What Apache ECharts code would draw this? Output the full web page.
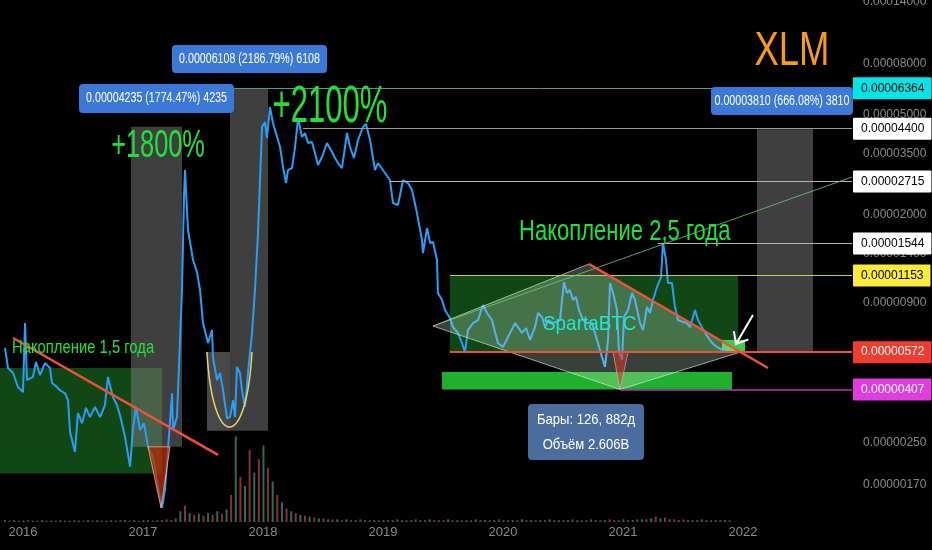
<!DOCTYPE html>
<html><head><meta charset="utf-8">
<script src="https://cdn.jsdelivr.net/npm/echarts@6.0.0/dist/echarts.min.js"></script>
<style>html,body{margin:0;padding:0;background:#000;}#c{width:932px;height:550px;}</style>
</head><body><div id="c"></div>
<script>
// ---------- DATA ----------
const times = [2015.85,2015.875,2015.917,2015.958,2016.0,2016.017,2016.033,2016.083,2016.108,2016.142,2016.183,2016.225,2016.242,2016.267,2016.308,2016.35,2016.375,2016.392,2016.433,2016.458,2016.492,2016.525,2016.558,2016.6,2016.642,2016.683,2016.708,2016.75,2016.783,2016.808,2016.85,2016.892,2016.917,2016.942,2016.975,2017.008,2017.042,2017.083,2017.125,2017.158,2017.183,2017.208,2017.242,2017.25,2017.283,2017.292,2017.325,2017.342,2017.35,2017.375,2017.417,2017.45,2017.475,2017.5,2017.542,2017.575,2017.583,2017.617,2017.642,2017.667,2017.7,2017.725,2017.75,2017.767,2017.783,2017.808,2017.825,2017.85,2017.875,2017.908,2017.933,2017.958,2017.992,2018.017,2018.033,2018.058,2018.083,2018.142,2018.167,2018.192,2018.208,2018.242,2018.267,2018.292,2018.325,2018.35,2018.375,2018.408,2018.433,2018.458,2018.492,2018.533,2018.575,2018.6,2018.625,2018.658,2018.7,2018.725,2018.758,2018.792,2018.833,2018.858,2018.892,2018.933,2018.958,2019.017,2019.058,2019.083,2019.125,2019.167,2019.208,2019.242,2019.283,2019.325,2019.333,2019.367,2019.392,2019.417,2019.45,2019.458,2019.492,2019.517,2019.558,2019.583,2019.625,2019.658,2019.683,2019.708,2019.75,2019.792,2019.833,2019.867,2019.908,2019.933,2019.958,2020.0,2020.042,2020.1,2020.125,2020.158,2020.192,2020.225,2020.267,2020.292,2020.325,2020.35,2020.375,2020.417,2020.475,2020.508,2020.533,2020.558,2020.583,2020.608,2020.633,2020.667,2020.7,2020.742,2020.783,2020.825,2020.85,2020.875,2020.892,2020.917,2020.95,2020.967,2020.992,2021.008,2021.042,2021.075,2021.1,2021.142,2021.167,2021.2,2021.225,2021.25,2021.283,2021.317,2021.333,2021.358,2021.375,2021.408,2021.433,2021.458,2021.5,2021.533,2021.558,2021.6,2021.625,2021.658,2021.7,2021.742,2021.783,2021.825,2021.867];
// prices in satoshi (x 1e-8 BTC)
const prices = [595,495,473,416,397,746,443,456,523,464,518,495,431,423,404,393,369,276,230,328,299,344,316,347,316,353,456,379,353,322,264,201,286,347,281,299,241,220,167,138,163,234,393,281,316,404,1009,2402,3018,1745,1327,1190,1009,746,622,700,547,443,473,404,313,316,369,316,500,473,404,347,473,676,1009,1682,4470,4679,4043,5366,4636,3724,3102,2680,3018,3074,3724,4854,4081,4232,3863,3898,3526,3159,3399,3863,3558,3368,3217,3074,4232,3724,3368,3970,4470,4594,3970,3018,3217,2937,2755,2234,2193,2755,2680,2515,2038,1592,1415,1777,1550,1564,1327,982,921,840,781,719,682,622,573,700,746,767,880,818,767,688,622,600,657,746,719,682,713,640,719,818,788,719,767,746,767,1085,982,1009,921,947,840,767,746,746,640,547,500,640,1075,982,840,568,533,788,840,982,921,746,700,864,818,921,1037,1136,1550,1327,1075,1075,864,767,753,746,719,840,767,719,663,622,600,584,573];

const volStart = 2015.85, volStep = 0.03846;
const volumes = [2,1.5,2,1.5,1.5,2,1.5,1.5,2,1.5,1.5,1.5,2,1.5,1.5,2,1.5,1.5,2,1.5,2,1.5,1.5,2,1.5,2,2,1.5,2,1.5,2,2,1.5,2,2,3,2,
 4,12,18,10,8,9,7,10,8,12,9,14,30,95,50,40,80,55,70,85,60,45,30,22,15,12,10,8,7,6,5,4,
 4,3,3,3,2,3,2,2,3,2,2,2,
 2,2,2,2,3,2,2,2,3,2,2,3,2,2,2,3,2,2,2,2,
 2,3,2,2,2,2,3,2,2,2,2,3,2,2,2,2,2,3,2,2,
 2,2,3,2,2,2,3,2,2,2,3,2,2,3,2,2,3,3,3,4,
 6,4,5,3,3,2,3,2,2,2,3,2,2,2,2,2,2];

const yearTicks = [2016,2017,2018,2019,2020,2021,2022];
const priceTicks = [14000,8000,5000,3500,2000,1400,900,250,170];

const levelValues = [6364,4400,2715,1544,1153,572,407];
const levelStarts = [2017.70,2018.333,2019.058,2021.292,2019.558,2019.558,2020.975];

// zones: [tStart, low, tEnd, high]
const accumZones = [[2015.808,189,2017.158,495],[2019.558,572,2021.958,1153]];
const supportBars = [[2019.492,407,2021.908,477],[2021.825,572,2022.017,640]];
const measureBoxes = [[2016.900,241,2017.325,4476],[2017.725,279,2018.042,6387],[2022.117,572,2022.583,4382],[2017.533,279,2017.725,573]];

const diamond = [[2019.417,726],[2020.717,1280],[2021.983,573],[2020.975,407]];
const leftTriangle = [[2017.042,241],[2017.225,241],[2017.150,138]];
const rightTriangle = [[2020.917,572],[2021.042,572],[2020.975,407]];
const cupPoints = [[2017.533,573],[2017.725,289],[2017.908,573]];
const leftTrend = [[2015.917,651],[2017.625,224]];
const rightTrend = [[2020.717,1280],[2022.208,495]];
const upperRay = [[2019.417,726],[2022.908,2832]];
const arrowLine = [[2022.083,803],[2021.942,617]];

const measureTexts = ['0.00004235 (1774.47%) 4235','0.00006108 (2186.79%) 6108','0.00003810 (666.08%) 3810'];

// ---------- STYLE ----------
const FONT = "'Liberation Sans',Arial,sans-serif";
const X_MIN = 2015.80833, X_MAX = 2022.90833, Y_MIN = 121.3, Y_MAX = 14258;
const levelLine = ['#3f9f9f','#9a9a9a','#b4b4b4','#b4b4b4','#c8c860','#e8503a','#b03cb0'];
const levelWidth = [1,1,1,1,1,2,1.5];
const tagBg = ['#00e5e5','#ffffff','#ffffff','#ffffff','#ffeb3b','#f23c30','#e03ce0'];
const tagFg = ['#000','#000','#000','#000','#000','#fff','#fff'];
const fmt = v => (v/1e8).toFixed(8);

const polyShapes = [diamond, leftTriangle, rightTriangle];
const polyStyles = [
  {fill:'rgba(210,235,210,0.27)', stroke:'rgba(215,240,215,0.65)'},
  {fill:'rgba(190,45,15,0.75)', stroke:'rgba(255,215,160,0.65)'},
  {fill:'rgba(205,55,45,0.6)', stroke:'rgba(255,200,190,0.5)'}
];

function rectRenderer(fills) {
  return (params, api) => {
    const a = api.coord([api.value(0), api.value(1)]);
    const b = api.coord([api.value(2), api.value(3)]);
    return {type:'rect', shape:{x:Math.min(a[0],b[0]), y:Math.min(a[1],b[1]), width:Math.abs(b[0]-a[0]), height:Math.abs(b[1]-a[1])},
      style:{fill: fills[params.dataIndex % fills.length]}};
  };
}
function rectSeries(data, fills, z) {
  return {type:'custom', coordinateSystem:'cartesian2d', xAxisIndex:0, yAxisIndex:0, z, silent:true,
    encode:{x:[0,2], y:[1,3]}, data, renderItem: rectRenderer(fills)};
}
function segSeries(pts, color, width, z) {
  return {type:'line', xAxisIndex:0, yAxisIndex:0, data:pts, symbol:'none', showSymbol:false, silent:true, z, clip:false,
    lineStyle:{color, width}};
}

const chart = echarts.init(document.getElementById('c'));

function gtext(text, x, y, size, color, align, sx) {
  return {type:'text', x, y, z:100, silent:true, scaleX: sx || 1,
    style:{text, fontSize:size, fontFamily:FONT, fill:color, textAlign:align||'center', textVerticalAlign:'middle'}};
}
function blueLabel(text, x, y, w, h) {
  return [{type:'rect', z:99, silent:true, shape:{x, y, width:w, height:h, r:4}, style:{fill:'#3c78d8'}},
          gtext(text, x + w/2, y + h/2, 14, '#ffffff', 'center', 0.76)];
}

const option = {
  backgroundColor:'#000000',
  animation:false,
  grid:[
    {left:0, right:80, top:0, height:522, containLabel:false, outerBoundsMode:'none'},
    {left:0, right:80, top:432, height:90, containLabel:false, outerBoundsMode:'none'}
  ],
  xAxis:[
    {gridIndex:0, type:'value', min:X_MIN, max:X_MAX, show:false},
    {gridIndex:1, type:'value', min:X_MIN, max:X_MAX, splitNumber:7,
      axisLine:{show:false}, axisTick:{show:false}, splitLine:{show:false},
      axisLabel:{customValues:yearTicks, color:'#8a8a8a', fontSize:13, fontFamily:FONT, margin:4,
        formatter: v => Math.abs(v - Math.round(v)) < 1e-6 ? String(Math.round(v)) : ''}}
  ],
  yAxis:[
    {gridIndex:0, type:'log', min:Y_MIN, max:Y_MAX, show:false},
    {gridIndex:1, type:'value', min:0, max:100, show:false}
  ],
  series:[
    rectSeries(accumZones, ['rgba(40,170,50,0.42)'], 1),
    rectSeries(measureBoxes, ['rgba(125,125,125,0.5)','rgba(125,125,125,0.5)','rgba(125,125,125,0.5)','rgba(160,160,160,0.45)'], 1),
    rectSeries(supportBars, ['#1fb02e','#3ad04a'], 2),
    {type:'bar', xAxisIndex:1, yAxisIndex:1, barWidth:2, silent:true, z:1,
      data: volumes.map((v,i) => [volStart + i*volStep, v]),
      itemStyle:{color: p => p.dataIndex % 2 ? '#8a3232' : '#2a6e5a'}},
    // axis tick labels
    {type:'line', xAxisIndex:0, yAxisIndex:0, data:[[2016,1000]], symbol:'none', lineStyle:{color:'rgba(0,0,0,0)'}, z:2, clip:false, silent:true,
      markLine:{silent:true, symbol:['none','none'], lineStyle:{color:'rgba(0,0,0,0)', width:1, type:'solid'},
        label:{show:true, position:'end', distance:11, color:'#8a8a8a', fontSize:12, fontFamily:FONT, formatter: p => fmt(p.value)},
        data: priceTicks.map(v => ({yAxis:v}))}},
    // price line + levels
    {type:'line', name:'XLMBTC', xAxisIndex:0, yAxisIndex:0, z:3, clip:false, silent:true,
      data: times.map((t,i) => [t, prices[i]]), symbol:'none', showSymbol:false,
      lineStyle:{color:'#2a9df4', width:2},
      markLine:{silent:true, symbol:['none','none'], animation:false,
        data: levelValues.map((v,i) => {
          const lab = {show:true, position:'end', distance:1, formatter: fmt(v), color:tagFg[i], backgroundColor:tagBg[i],
            padding:[5,7,5,8], fontSize:12, fontFamily:FONT, lineHeight:12, borderRadius:1};
          const ls = {color:levelLine[i], width:levelWidth[i], type:'solid'};
          return [{coord:[levelStarts[i], v], lineStyle:ls, label:lab}, {coord:[X_MAX, v], lineStyle:ls, label:lab}];
        })}},
    {type:'custom', coordinateSystem:'cartesian2d', xAxisIndex:0, yAxisIndex:0, z:4, silent:true,
      data: polyShapes.map(s => s[0]),
      renderItem:(params, api) => {
        const pts = polyShapes[params.dataIndex].map(p => api.coord(p));
        const st = polyStyles[params.dataIndex];
        return {type:'polygon', shape:{points:pts}, style:{fill:st.fill, stroke:st.stroke, lineWidth:1}};
      }},
    segSeries(upperRay, 'rgba(110,200,130,0.8)', 1, 5),
    segSeries(leftTrend, '#f0503c', 2.5, 6),
    segSeries(rightTrend, '#f0503c', 2.5, 6),
    {type:'custom', coordinateSystem:'cartesian2d', xAxisIndex:0, yAxisIndex:0, z:6, silent:true,
      data:[cupPoints[1]],
      renderItem:(params, api) => {
        const a = api.coord(cupPoints[0]), b = api.coord(cupPoints[1]), c = api.coord(cupPoints[2]);
        const cy = (8*b[1] - a[1] - c[1]) / 6;
        const cx1 = a[0] + (b[0]-a[0])*0.25, cx2 = c[0] - (c[0]-b[0])*0.25;
        return {type:'bezierCurve', shape:{x1:a[0], y1:a[1], x2:c[0], y2:c[1], cpx1:cx1, cpy1:cy, cpx2:cx2, cpy2:cy},
          style:{stroke:'#e6d36a', lineWidth:1.5, fill:null}};
      }},
    {type:'custom', coordinateSystem:'cartesian2d', xAxisIndex:0, yAxisIndex:0, z:7, silent:true,
      data:[arrowLine[1]],
      renderItem:(params, api) => {
        const tail = api.coord(arrowLine[0]), head = api.coord(arrowLine[1]);
        const ang = Math.atan2(tail[1]-head[1], tail[0]-head[0]);
        const L = 13, s = 0.7;
        const p1 = [head[0] + L*Math.cos(ang+s), head[1] + L*Math.sin(ang+s)];
        const p2 = [head[0] + L*Math.cos(ang-s), head[1] + L*Math.sin(ang-s)];
        return {type:'group', children:[
          {type:'line', shape:{x1:tail[0], y1:tail[1], x2:head[0], y2:head[1]}, style:{stroke:'#ffffff', lineWidth:2}},
          {type:'polyline', shape:{points:[p1, head, p2]}, style:{stroke:'#ffffff', lineWidth:2, fill:null}}
        ]};
      }}
  ],
  graphic:[
    gtext('XLM', 792, 52, 48, '#f59c1a', 'center', 0.76),
    gtext('+1800%', 158, 146, 39, '#22e03c', 'center', 0.65),
    gtext('+2100%', 330, 108, 51, '#22e03c', 'center', 0.61),
    gtext('Накопление 1,5 года', 12, 348, 19, '#22e03c', 'left', 0.78),
    gtext('Накопление 2,5 года', 519, 232, 29, '#22e03c', 'left', 0.76),
    gtext('SpartaBTC', 543, 324, 21, '#21e6d6', 'left', 0.9),
    ...blueLabel(measureTexts[0], 79, 84, 155, 29),
    ...blueLabel(measureTexts[1], 172, 45, 155, 28),
    ...blueLabel(measureTexts[2], 711, 87, 142, 28),
    {type:'rect', z:99, silent:true, shape:{x:528, y:404, width:116, height:56, r:4}, style:{fill:'#4a6d9e'}},
    gtext('Бары: 126, 882д', 586, 420, 15, '#ffffff', 'center', 0.87),
    gtext('Объём 2.606B', 586, 445, 15, '#ffffff', 'center', 0.87)
  ]
};
chart.setOption(option);
</script>
</body></html>
